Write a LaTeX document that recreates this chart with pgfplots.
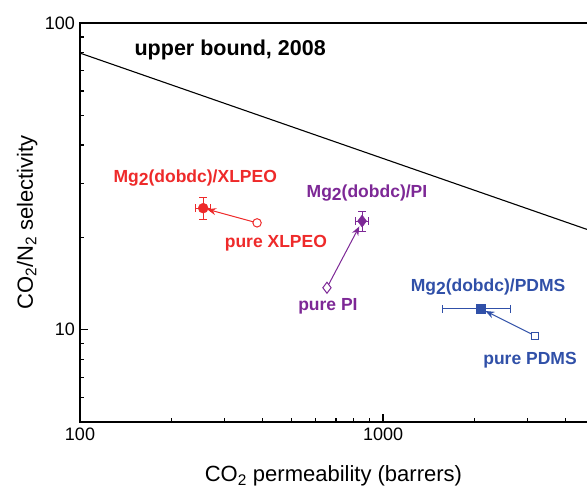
\documentclass[border=0pt]{standalone}
\usepackage{pgfplots}
\pgfplotsset{compat=1.18}
\usepackage{fontspec}
\setmainfont{Liberation Sans}
\usetikzlibrary{arrows.meta}
\definecolor{cred}{RGB}{238,42,42}
\definecolor{cpur}{RGB}{125,40,150}
\definecolor{cblu}{RGB}{48,80,168}
\newcommand{\sub}[1]{\raisebox{-0.35ex}{#1}}
\begin{document}
\begin{tikzpicture}
\begin{axis}[name=ax,
  xmode=log, ymode=log, scale only axis, width=513pt, height=399pt,
  xmin=100, xmax=4930, ymin=5, ymax=100,
  clip=false,
  xtick={100,1000}, xticklabels={100,1000},
  ytick={10,100}, yticklabels={10,100},
  minor xtick={200,300,400,500,600,700,800,900,2000,3000,4000},
  minor ytick={6,7,8,9,20,30,40,50,60,70,80,90},
  tick pos=left,
  tick align=inside,
  major tick length=8pt, minor tick length=4pt,
  every tick/.append style={black, line width=1.2pt},
  axis line style={line width=1.4pt},
  tick label style={font=\fontsize{18}{20}\selectfont},
  yticklabel style={inner sep=0pt, xshift=-5pt},
  xticklabel style={inner sep=0pt, yshift=-6pt},
  xlabel={CO\textsubscript{2} permeability (barrers)},
  ylabel={CO\textsubscript{2}/N\textsubscript{2} selectivity},
  every axis x label/.style={at={(axis description cs:0.494,-0.150)}, anchor=base, font=\fontsize{22}{24}\selectfont, inner sep=0pt},
  every axis y label/.style={at={(axis description cs:-0.092,0.5)}, rotate=90, anchor=base, font=\fontsize{22}{24}\selectfont, inner sep=0pt},
]
% upper bound
\addplot[black, line width=1.1pt] coordinates {(100,79.8) (4930,20.9)};
% arrows
\addplot[cred, line width=1pt, -{Stealth[length=9pt,width=7pt]}, shorten >=4pt, shorten <=4pt] coordinates {(384,22.3) (255,24.9)};
\addplot[cpur, line width=1pt, -{Stealth[length=9pt,width=7pt]}, shorten >=6pt, shorten <=4pt] coordinates {(653,13.7) (853,22.6)};
\addplot[cblu, line width=1pt, -{Stealth[length=9pt,width=7pt]}, shorten >=5pt, shorten <=4pt] coordinates {(3176,9.55) (2104,11.7)};
% pure polymers
\addplot[cred, only marks, mark=o, mark size=4.2pt, mark options={fill=white, line width=1pt}] coordinates {(384,22.3)};
\addplot[cpur, only marks, mark=diamond, mark size=5.5pt, mark options={fill=white, line width=1pt}] coordinates {(653,13.7)};
\addplot[cblu, only marks, mark=square, mark size=3.8pt, mark options={fill=white, line width=1pt}] coordinates {(3176,9.55)};
% composites with error bars
\addplot[cred, only marks, mark=*, mark size=5pt,
  error bars/.cd, x dir=both, x explicit, y dir=both, y explicit,
  error bar style={cred, line width=1pt},
  error mark options={cred, rotate=90, mark size=4pt, line width=1pt}]
  coordinates {(255,24.9) +- (15,2.0)};
\addplot[cpur, only marks, mark=diamond*, mark size=6pt,
  error bars/.cd, x dir=both, x explicit, y dir=both, y explicit,
  error bar style={cpur, line width=1pt},
  error mark options={cpur, rotate=90, mark size=4pt, line width=1pt}]
  coordinates {(853,22.6) +- (41,1.7)};
\addplot[cblu, only marks, mark=square*, mark size=4.5pt,
  error bars/.cd, x dir=both, x explicit,
  error bar style={cblu, line width=1pt},
  error mark options={cblu, rotate=90, mark size=4pt, line width=1pt}]
  coordinates {(2104,11.7) +- (530,0)};
% labels
\node[font=\fontsize{21.5}{23}\selectfont\bfseries] at (axis cs:313,81.6) {upper bound, 2008};
\node[cred, font=\fontsize{17.5}{20}\selectfont\bfseries] at (axis cs:240,31.3) {Mg\sub{2}(dobdc)/XLPEO};
\node[cred, font=\fontsize{17.5}{20}\selectfont\bfseries] at (axis cs:443,19.2) {pure XLPEO};
\node[cpur, font=\fontsize{17.5}{20}\selectfont\bfseries] at (axis cs:885,27.9) {Mg\sub{2}(dobdc)/PI};
\node[cpur, font=\fontsize{17.5}{20}\selectfont\bfseries] at (axis cs:658,11.9) {pure PI};
\node[cblu, font=\fontsize{17.5}{20}\selectfont\bfseries] at (axis cs:2221,13.8) {Mg\sub{2}(dobdc)/PDMS};
\node[cblu, font=\fontsize{17.5}{20}\selectfont\bfseries] at (axis cs:3055,7.98) {pure PDMS};
\end{axis}
\pgfresetboundingbox
\path ([shift={(-80pt,-67pt)}]ax.south west) rectangle ([shift={(-6pt,23pt)}]ax.north east);
\end{tikzpicture}
\end{document}
